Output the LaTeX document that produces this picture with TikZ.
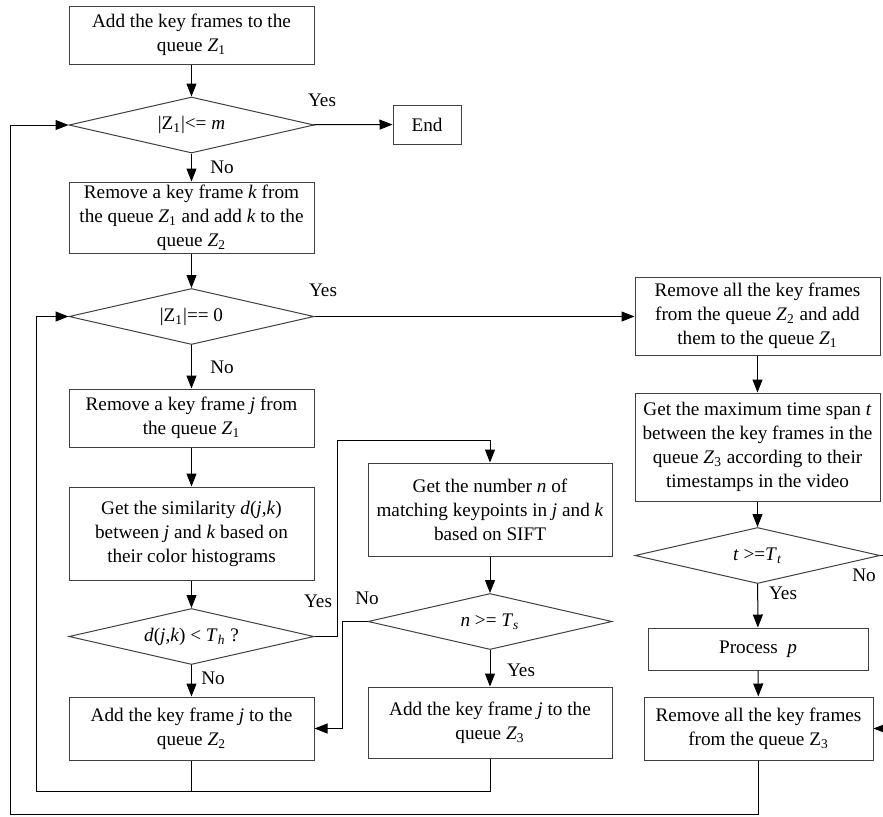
\documentclass[tikz,border=0pt]{standalone}
\usepackage{fontspec}
\setmainfont{Liberation Serif}
\usetikzlibrary{positioning,arrows.meta,shapes.geometric}

\newcommand{\zq}[1]{\textit{Z}\textsubscript{#1}}

\begin{document}
\begin{tikzpicture}[
  x=0.5pt, y=-0.5pt,
  font=\fontsize{9.6}{12}\selectfont,
  box/.style={rectangle, draw=black!75, line width=0.5pt, inner sep=1pt,
              minimum width=122.5pt, fill=white, align=center},
  test/.style={diamond, draw=black!75, line width=0.5pt, inner sep=0pt, aspect=4.375,
               minimum width=122.5pt, minimum height=28pt, fill=white},
  arr/.style={-{Triangle[length=6.5pt,width=5pt]}, line width=0.5pt},
  lin/.style={line width=0.5pt},
  lbl/.style={inner sep=1pt, fill=white}
]
\useasboundingbox (0,0) rectangle (883,816);

% left column
\node[box, minimum height=29pt]   (addkf)  at (191.5, 35)  {Add the key frames to the\\queue \zq{1}};
\node[test]                       (sizeq)  at (191.5, 125) {|Z\textsubscript{1}|<= \textit{m}};
\node[box, minimum width=34pt, minimum height=19.5pt] (endn) at (427, 124.5) {End};
\node[box, minimum height=35.5pt] (remk)   at (191.5, 217.5) {Remove a key frame \textit{k} from\\the queue \zq{1} and add \textit{k} to the\\queue \zq{2}};
\node[test]                       (emptyq) at (191.5, 316.5) {|Z\textsubscript{1}|== 0};
\node[box, minimum height=29pt]   (remj)   at (191.5, 418)   {Remove a key frame \textit{j} from\\the queue \zq{1}};
\node[box, minimum height=46.5pt] (simil)  at (191.5, 533.5) {Get the similarity \textit{d}(\textit{j},\textit{k})\\between \textit{j} and \textit{k} based on\\their color histograms};
\node[test]                       (hist)   at (191.5, 636.5) {\textit{d}(\textit{j},\textit{k}) < \textit{T}\textsubscript{\textit{h}} ?};
\node[box, minimum height=31.5pt] (addz2)  at (191.5, 728.5) {Add the key frame \textit{j} to the\\queue \zq{2}};

% middle column
\node[box, minimum width=122pt, minimum height=46.5pt] (match) at (490, 509.5) {Get the number \textit{n} of\\matching keypoints in \textit{j} and \textit{k}\\based on SIFT};
\node[test, minimum width=122pt]  (sift)   at (490, 621.5) {\textit{n} >= \textit{T}\textsubscript{\textit{s}}};
\node[box, minimum width=122pt, minimum height=35.5pt] (addz3) at (490, 722.5) {Add the key frame \textit{j} to the\\queue \zq{3}};

% right column
\node[box, minimum height=39pt]   (move)   at (757.5, 316) {Remove all the key frames\\from the queue \zq{2} and add\\them to the queue \zq{1}};
\node[box, minimum height=54pt]   (span)   at (757.5, 447) {Get the maximum time span \textit{t}\\between the key frames in the\\queue \zq{3} according to their\\timestamps in the video};
\node[test]                       (tspan)  at (757.5, 555.5) {\textit{t} >=\textit{T}\textsubscript{\textit{t}}};
\node[box, minimum width=110pt, minimum height=21pt] (proc) at (758, 649) {Process~ \textit{p}};
\node[box, minimum width=114.5pt, minimum height=31.5pt] (clear) at (758.5, 728.5) {Remove all the key frames\\from the queue Z\textsubscript{3}};

% loop corners
\coordinate (inner) at (36, 791);
\coordinate (outer) at (10, 814);
\coordinate (detour) at (337, 440);

\draw[arr] (addkf) -- (sizeq);
\draw[arr] (sizeq) -- (endn);
\draw[arr] (sizeq) -- (remk);
\draw[arr] (remk) -- (emptyq);
\draw[arr] (emptyq.east) -- (move.west |- emptyq.east);
\draw[arr] (emptyq) -- (remj);
\draw[arr] (remj) -- (simil);
\draw[arr] (simil) -- (hist);
\draw[arr] (hist) -- (addz2);
\draw[arr] (hist.east) -| (detour) -| (match.north);
\draw[arr] (match) -- (sift);
\draw[arr] (sift) -- (addz3);
\draw[arr] (sift.west) -- ++(-25,0) |- (addz2.east);
\draw[lin] (addz2.south) -- (addz2.south |- inner);
\draw[arr] (addz3.south) |- (inner) |- (emptyq.west);

\draw[arr] (move) -- (span);
\draw[arr] (span.south -| tspan.north) -- (tspan.north);
\draw[arr] (tspan) -- (proc);
\draw[arr] (proc) -- (clear);
\draw[arr] (tspan.east) -- ++(12,0) |- (clear.east);
\draw[arr] (clear.south) |- (outer) |- (sizeq.west);

% branch labels
\node[lbl] (y1) at (322, 100) {Yes};
\node[lbl] (n1) at (222, 167) {No};
\node[lbl] (y2) at (323, 290) {Yes};
\node[lbl] (n2) at (222, 367) {No};
\node[lbl] (y3) at (318, 601) {Yes};
\node[lbl] (n3) at (213, 678) {No};
\node[lbl] (n4) at (367, 598) {No};
\node[lbl] (y4) at (521, 670) {Yes};
\node[lbl] (n5) at (864, 575) {No};
\node[lbl] (y5) at (783, 593) {Yes};
\end{tikzpicture}
\end{document}
